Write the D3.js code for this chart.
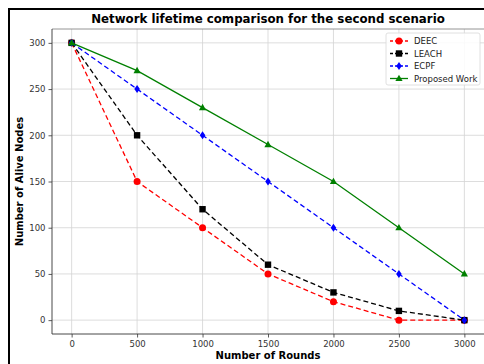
<!DOCTYPE html>
<html>
<head>
<meta charset="utf-8">
<script src="https://cdn.jsdelivr.net/npm/d3@7"></script>
<style>
  body { margin: 0; background: #fff; }
  svg { font-family: "DejaVu Sans", sans-serif; }
</style>
</head>
<body>
<svg width="484" height="364"></svg>
<script>
var rounds = [0, 500, 1000, 1500, 2000, 2500, 3000];
var deec = [300, 150, 100, 50, 20, 0, 0];
var leach = [300, 200, 120, 60, 30, 10, 0];
var ecpf = [300, 250, 200, 150, 100, 50, 0];
var proposed = [300, 270, 230, 190, 150, 100, 50];
var xTicks = [0, 500, 1000, 1500, 2000, 2500, 3000];
var yTicks = [0, 50, 100, 150, 200, 250, 300];

var series = [
    { name: "DEEC", values: deec, color: "#ff0000", dash: "5,3", marker: "circle" },
    { name: "LEACH", values: leach, color: "#000000", dash: "5,3", marker: "square" },
    { name: "ECPF", values: ecpf, color: "#0000ff", dash: "5,3", marker: "diamond" },
    { name: "Proposed Work", values: proposed, color: "#008000", dash: null, marker: "triangle" }
];

var svg = d3.select("svg");
var plotLeft = 52, plotRight = 484, plotTop = 29, plotBottom = 334;

// outer frame
svg.append("rect")
    .attr("x", 9).attr("y", 9)
    .attr("width", 490).attr("height", 370)
    .attr("fill", "none").attr("stroke", "#000").attr("stroke-width", 2);

var x = d3.scaleLinear().domain([-150, 3150]).range([plotLeft, plotRight]);
var y = d3.scaleLinear().domain([-15, 315]).range([plotBottom, plotTop]);

// grid
svg.append("g").selectAll("line").data(xTicks).enter().append("line")
    .attr("x1", function (d) { return x(d); }).attr("x2", function (d) { return x(d); })
    .attr("y1", plotTop).attr("y2", plotBottom)
    .attr("stroke", "#d4d4d4").attr("stroke-width", 0.8);
svg.append("g").selectAll("line").data(yTicks).enter().append("line")
    .attr("y1", function (d) { return y(d); }).attr("y2", function (d) { return y(d); })
    .attr("x1", plotLeft).attr("x2", plotRight)
    .attr("stroke", "#d4d4d4").attr("stroke-width", 0.8);

// axes
var xAxis = svg.append("g")
    .attr("transform", "translate(0," + plotBottom + ")")
    .call(d3.axisBottom(x).tickValues(xTicks).tickSize(3.5).tickPadding(3).tickFormat(d3.format("d")));
var yAxis = svg.append("g")
    .attr("transform", "translate(" + plotLeft + ",0)")
    .call(d3.axisLeft(y).tickValues(yTicks).tickSize(3.5).tickPadding(3).tickFormat(d3.format("d")));
[xAxis, yAxis].forEach(function (a) {
    a.select(".domain").remove();
    a.selectAll("text").attr("font-size", 8.5).attr("fill", "#333")
        .attr("font-family", "DejaVu Sans, sans-serif");
    a.selectAll("line").attr("stroke", "#333").attr("stroke-width", 0.8);
});

// spines
svg.append("line")
    .attr("x1", plotLeft).attr("x2", plotRight).attr("y1", plotTop).attr("y2", plotTop)
    .attr("stroke", "#888").attr("stroke-width", 0.9);
svg.append("line")
    .attr("x1", plotLeft).attr("x2", plotLeft).attr("y1", plotTop).attr("y2", plotBottom)
    .attr("stroke", "#333").attr("stroke-width", 0.9);
svg.append("line")
    .attr("x1", plotLeft).attr("x2", plotRight).attr("y1", plotBottom).attr("y2", plotBottom)
    .attr("stroke", "#333").attr("stroke-width", 0.9);

// lines
var line = d3.line()
    .x(function (d, i) { return x(rounds[i]); })
    .y(function (d) { return y(d); });

function drawMarker(g, type, color) {
    if (type === "circle") {
        g.append("circle").attr("r", 3.5).attr("fill", color);
    } else if (type === "square") {
        g.append("rect").attr("x", -3.2).attr("y", -3.2).attr("width", 6.4).attr("height", 6.4).attr("fill", color);
    } else if (type === "diamond") {
        g.append("path").attr("d", "M0,-4L2.8,0L0,4L-2.8,0Z").attr("fill", color);
    } else {
        g.append("path").attr("d", "M0,-3.8L3.6,2.6L-3.6,2.6Z").attr("fill", color);
    }
}

series.forEach(function (s) {
    svg.append("path")
        .datum(s.values)
        .attr("d", line)
        .attr("fill", "none")
        .attr("stroke", s.color)
        .attr("stroke-width", 1.3)
        .attr("stroke-dasharray", s.dash);
    s.values.forEach(function (v, i) {
        var g = svg.append("g").attr("transform", "translate(" + x(rounds[i]) + "," + y(v) + ")");
        drawMarker(g, s.marker, s.color);
    });
});

// title and labels
svg.append("text")
    .attr("x", (plotLeft + plotRight) / 2).attr("y", 23)
    .attr("text-anchor", "middle")
    .attr("font-size", 11.8).attr("font-weight", "bold")
    .text("Network lifetime comparison for the second scenario");
svg.append("text")
    .attr("x", (plotLeft + plotRight) / 2).attr("y", 359)
    .attr("text-anchor", "middle")
    .attr("font-size", 10).attr("font-weight", "bold")
    .text("Number of Rounds");
svg.append("text")
    .attr("transform", "translate(23," + (plotTop + plotBottom) / 2 + ") rotate(-90)")
    .attr("text-anchor", "middle")
    .attr("font-size", 10).attr("font-weight", "bold")
    .text("Number of Alive Nodes");

// legend
var legend = svg.append("g").attr("transform", "translate(386,33)");
legend.append("rect")
    .attr("width", 94).attr("height", 52).attr("rx", 2)
    .attr("fill", "#fff").attr("fill-opacity", 0.85)
    .attr("stroke", "#d8d8d8").attr("stroke-width", 0.8);
series.forEach(function (s, i) {
    var row = legend.append("g").attr("transform", "translate(0," + (8 + i * 12.5) + ")");
    row.append("line")
        .attr("x1", 4).attr("x2", 22)
        .attr("stroke", s.color).attr("stroke-width", 1.3)
        .attr("stroke-dasharray", s.dash ? "3,2" : null);
    var m = row.append("g").attr("transform", "translate(13,0)");
    drawMarker(m, s.marker, s.color);
    row.append("text")
        .attr("x", 28).attr("y", 3)
        .attr("font-size", 8.5).attr("fill", "#222")
        .text(s.name);
});
</script>
</body>
</html>
